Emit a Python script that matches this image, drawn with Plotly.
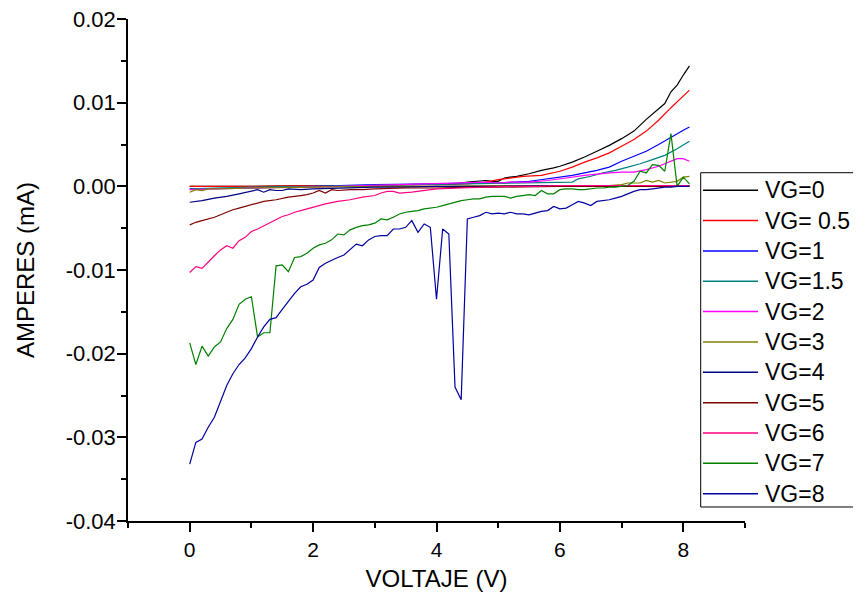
import plotly.graph_objects as go

# ---------------- data ----------------
V_FINE = [0.0, 0.1, 0.2, 0.3, 0.4, 0.5, 0.6, 0.7, 0.8, 0.9,
          1.0, 1.1, 1.2, 1.3, 1.4, 1.5, 1.6, 1.7, 1.8, 1.9,
          2.0, 2.1, 2.2, 2.3, 2.4, 2.5, 2.6, 2.7, 2.8, 2.9,
          3.0, 3.1, 3.2, 3.3, 3.4, 3.5, 3.6, 3.7, 3.8, 3.9,
          4.0, 4.1, 4.2, 4.3, 4.4, 4.5, 4.6, 4.7, 4.8, 4.9,
          5.0, 5.1, 5.2, 5.3, 5.4, 5.5, 5.6, 5.7, 5.8, 5.9,
          6.0, 6.1, 6.2, 6.3, 6.4, 6.5, 6.6, 6.7, 6.8, 6.9,
          7.0, 7.1, 7.2, 7.3, 7.4, 7.5, 7.6, 7.7, 7.8, 7.9,
          8.0, 8.1]

X_VG0 = [0.0, 1.0, 2.0, 3.0, 3.5, 4.0, 4.3, 4.5, 4.7, 4.8, 4.9, 5.0, 5.1, 5.3, 5.5, 5.7, 5.9,
         6.0, 6.2, 6.4, 6.6, 6.8, 7.0, 7.2, 7.4, 7.6, 7.7, 7.8, 7.9, 8.0, 8.1]
Y_VG0 = [0.0000, 0.0000, 0.0001, 0.0001, 0.0002, 0.0003, 0.0003, 0.0005, 0.0006, 0.0007, 0.0006, 0.0006,
         0.0010, 0.0012, 0.0015, 0.0019, 0.0022, 0.0024, 0.0029, 0.0035, 0.0042, 0.0049, 0.0057, 0.0066,
         0.0080, 0.0093, 0.0099, 0.0113, 0.0121, 0.0133, 0.0144]

X_VG05 = [0.0, 1.0, 2.0, 3.0, 3.5, 4.0, 4.5, 4.8, 5.0, 5.2, 5.4, 5.7, 6.0, 6.2, 6.4, 6.6, 6.8,
          7.0, 7.2, 7.4, 7.6, 7.8, 8.0, 8.1]
Y_VG05 = [0.0000, 0.0000, 0.0001, 0.0001, 0.0002, 0.0002, 0.0003, 0.0005, 0.0008, 0.0010, 0.0012, 0.0013,
          0.0018, 0.0023, 0.0029, 0.0034, 0.0040, 0.0048, 0.0056, 0.0066, 0.0079, 0.0094, 0.0108, 0.0115]

X_VG1 = [0.0, 1.0, 2.0, 3.0, 4.0, 4.5, 5.0, 5.3, 5.5, 5.6, 5.8, 6.0, 6.2, 6.4, 6.6, 6.8,
         7.0, 7.2, 7.4, 7.6, 7.8, 8.0, 8.1]
Y_VG1 = [-0.0003, -0.0002, 0.0000, 0.0002, 0.0003, 0.0004, 0.0004, 0.0005, 0.0006, 0.0007, 0.0009, 0.0011,
         0.0013, 0.0016, 0.0019, 0.0023, 0.0030, 0.0036, 0.0042, 0.0050, 0.0059, 0.0067, 0.0071]

X_VG15 = [0.0, 0.5, 1.0, 2.0, 3.0, 4.0, 4.5, 5.0, 5.5, 6.0, 6.2, 6.3, 6.5, 6.7, 6.9,
          7.1, 7.3, 7.5, 7.7, 7.9, 8.0, 8.1]
Y_VG15 = [-0.0003, -0.0002, -0.0001, 0.0000, 0.0001, 0.0002, 0.0003, 0.0003, 0.0004, 0.0004, 0.0005,
          0.0009, 0.0012, 0.0016, 0.0019, 0.0023, 0.0027, 0.0032, 0.0037, 0.0045, 0.0049, 0.0054]

X_VG2 = [0.0, 0.5, 1.0, 2.0, 3.0, 3.5, 4.0, 4.5, 4.8, 5.0, 5.2, 5.5, 5.8, 6.1, 6.4, 6.8,
         7.0, 7.2, 7.4, 7.6, 7.7, 7.8, 7.9, 8.0, 8.1]
Y_VG2 = [-0.0004, -0.0003, -0.0002, -0.0001, 0.0001, 0.0002, 0.0003, 0.0004, 0.0005, 0.0004, 0.0005,
         0.0005, 0.0007, 0.0010, 0.0013, 0.0016, 0.0017, 0.0017, 0.0020, 0.0024, 0.0027, 0.0030,
         0.0033, 0.0033, 0.0030]

X_VG3 = [0.0, 0.1, 0.2, 0.3, 0.5, 1.0, 2.0, 3.0, 4.0, 5.0, 6.0, 6.8, 7.0, 7.1, 7.3, 7.4,
         7.5, 7.6, 7.7, 7.8, 7.9, 8.0, 8.1]
Y_VG3 = [-0.0007, -0.0004, -0.0005, -0.0003, -0.0003, -0.0002, -0.0001, 0.0000, 0.0000, 0.0001, 0.0001,
         0.0001, 0.0002, 0.0004, 0.0004, 0.0007, 0.0005, 0.0007, 0.0004, 0.0005, 0.0006, 0.0011, 0.0012]

X_VG4 = [0.0, 0.2, 0.4, 0.6, 0.8, 1.0, 1.1, 1.2, 1.3, 1.4, 1.5, 1.6, 1.8, 2.0, 2.5, 3.0,
         3.5, 4.0, 5.0, 6.0, 7.0, 8.1]
Y_VG4 = [-0.0019, -0.0017, -0.0014, -0.0012, -0.0009, -0.0006, -0.0004, -0.0007, -0.0004, -0.0005,
         -0.0005, -0.0003, -0.0004, -0.0003, -0.0002, -0.0001, -0.0001, 0.0000, 0.0000, 0.0001,
         0.0001, 0.0001]

X_VG5 = [0.0, 0.1, 0.2, 0.3, 0.4, 0.5, 0.6, 0.7, 0.8, 0.9, 1.0, 1.2, 1.4, 1.6, 1.8, 1.9,
         2.0, 2.1, 2.2, 2.3, 2.4, 2.6, 2.8, 3.0, 3.5, 4.0, 4.5, 5.0, 6.0, 7.0, 8.1]
Y_VG5 = [-0.0046, -0.0043, -0.0041, -0.0039, -0.0037, -0.0034, -0.0031, -0.0028, -0.0026, -0.0024,
         -0.0022, -0.0018, -0.0016, -0.0013, -0.0011, -0.0010, -0.0008, -0.0005, -0.0008, -0.0004,
         -0.0005, -0.0004, -0.0004, -0.0003, -0.0002, -0.0002, -0.0001, -0.0001, 0.0000, 0.0000, 0.0000]

X_VG6 = [0.0, 0.1, 0.2, 0.3, 0.4, 0.5, 0.6, 0.7, 0.8, 0.9, 1.0, 1.1, 1.2, 1.3, 1.4, 1.5,
         1.6, 1.7, 1.8, 1.9, 2.0, 2.2, 2.4, 2.6, 2.8, 3.0, 3.1, 3.2, 3.3, 3.4, 3.6, 3.8,
         4.0, 4.4, 4.8, 5.2, 5.6, 6.0, 6.5, 7.0, 7.5, 8.1]
Y_VG6 = [-0.0103, -0.0096, -0.0098, -0.0090, -0.0083, -0.0076, -0.0071, -0.0074, -0.0065, -0.0061,
         -0.0054, -0.0051, -0.0047, -0.0043, -0.0039, -0.0036, -0.0034, -0.0031, -0.0029, -0.0027,
         -0.0025, -0.0021, -0.0018, -0.0016, -0.0013, -0.0011, -0.0008, -0.0006, -0.0006, -0.0008,
         -0.0007, -0.0005, -0.0003, -0.0002, -0.0001, 0.0000, 0.0000, 0.0001, 0.0001, 0.0001,
         0.0001, 0.0001]

Y_VG7 = [-0.0187, -0.0213, -0.0191, -0.0203, -0.0192, -0.0186, -0.0170, -0.0159, -0.0141, -0.0135,
         -0.0132, -0.0180, -0.0175, -0.0175, -0.0095, -0.0094, -0.0102, -0.0085, -0.0084, -0.0080,
         -0.0074, -0.0070, -0.0068, -0.0064, -0.0057, -0.0058, -0.0052, -0.0049, -0.0047, -0.0046,
         -0.0044, -0.0039, -0.0040, -0.0037, -0.0033, -0.0031, -0.0030, -0.0029, -0.0027, -0.0026,
         -0.0025, -0.0023, -0.0021, -0.0019, -0.0017, -0.0016, -0.0015, -0.0015, -0.0013, -0.0012,
         -0.0012, -0.0012, -0.0014, -0.0012, -0.0011, -0.0010, -0.0011, -0.0005, -0.0009, -0.0009,
         -0.0004, -0.0003, -0.0003, -0.0004, -0.0004, -0.0003, -0.0002, -0.0002, -0.0001, -0.0001,
         0.0000, 0.0001, 0.0006, 0.0018, 0.0016, 0.0026, 0.0025, 0.0018, 0.0063, 0.0000,
         0.0011, 0.0003]

Y_VG8 = [-0.0332, -0.0306, -0.0302, -0.0288, -0.0276, -0.0256, -0.0238, -0.0224, -0.0213, -0.0205,
         -0.0194, -0.0180, -0.0168, -0.0159, -0.0157, -0.0147, -0.0137, -0.0128, -0.0120, -0.0117,
         -0.0112, -0.0097, -0.0092, -0.0088, -0.0085, -0.0082, -0.0076, -0.0069, -0.0071, -0.0064,
         -0.0060, -0.0059, -0.0059, -0.0051, -0.0051, -0.0049, -0.0041, -0.0055, -0.0045, -0.0049,
         -0.0135, -0.0051, -0.0057, -0.0240, -0.0255, -0.0039, -0.0037, -0.0035, -0.0031, -0.0033,
         -0.0032, -0.0033, -0.0031, -0.0033, -0.0033, -0.0034, -0.0032, -0.0030, -0.0029, -0.0024,
         -0.0027, -0.0026, -0.0022, -0.0018, -0.0020, -0.0023, -0.0018, -0.0017, -0.0016, -0.0014,
         -0.0012, -0.0009, -0.0006, -0.0004, -0.0004, -0.0003, -0.0002, -0.0001, -0.0001, 0.0000,
         0.0000, 0.0000]

SERIES_NAMES = ["VG=0", "VG= 0.5", "VG=1", "VG=1.5", "VG=2", "VG=3",
                "VG=4", "VG=5", "VG=6", "VG=7", "VG=8"]
SERIES_X = [X_VG0, X_VG05, X_VG1, X_VG15, X_VG2, X_VG3, X_VG4, X_VG5, X_VG6, V_FINE, V_FINE]
SERIES_Y = [Y_VG0, Y_VG05, Y_VG1, Y_VG15, Y_VG2, Y_VG3, Y_VG4, Y_VG5, Y_VG6, Y_VG7, Y_VG8]
SERIES_COLORS = ["#000000", "#FF0000", "#0000FF", "#008080", "#FF00FF", "#808000",
                 "#000080", "#800000", "#FF0080", "#008000", "#0000A0"]

Y_TICK_VALUES = [-0.04, -0.03, -0.02, -0.01, 0.0, 0.01, 0.02]
Y_TICK_LABELS = ["-0.04", "-0.03", "-0.02", "-0.01", "0.00", "0.01", "0.02"]

FONT = "Liberation Sans, Arial, sans-serif"

fig = go.Figure()
for name, xs, ys, col in zip(SERIES_NAMES, SERIES_X, SERIES_Y, SERIES_COLORS):
    fig.add_trace(go.Scatter(x=xs, y=ys, mode="lines", name=name, showlegend=False,
                             line=dict(color=col, width=1.2)))

# ---- legend drawn as a framed box (paper coordinates) ----
LEG_BOX = dict(x0=0.9282, x1=1.22, y0=0.0279, y1=0.6938)
LEG_LINE_X0, LEG_LINE_X1, LEG_TEXT_X = 0.9319, 1.0211, 1.0292
LEG_TOP, LEG_STEP = 0.6590, 0.06046
shapes = [dict(type="rect", xref="paper", yref="paper", line=dict(color="black", width=1),
               fillcolor="white", layer="above", **LEG_BOX)]
annotations = []
for i, (name, col) in enumerate(zip(SERIES_NAMES, SERIES_COLORS)):
    yy = LEG_TOP - i * LEG_STEP
    shapes.append(dict(type="line", xref="paper", yref="paper", x0=LEG_LINE_X0, x1=LEG_LINE_X1,
                       y0=yy, y1=yy, line=dict(color=col, width=1.5), layer="above"))
    annotations.append(dict(xref="paper", yref="paper", x=LEG_TEXT_X, y=yy, text=name,
                            showarrow=False, xanchor="left", yanchor="middle",
                            font=dict(family=FONT, size=23, color="black")))

fig.update_layout(
    width=861, height=602,
    margin=dict(l=120, r=124, t=11, b=89, autoexpand=False),
    paper_bgcolor="white", plot_bgcolor="white",
    font=dict(family=FONT, color="black", size=21),
    showlegend=False,
    shapes=shapes, annotations=annotations,
    xaxis=dict(range=[-1, 9], tick0=0, dtick=2, showgrid=False, zeroline=False,
               showline=True, linecolor="black", linewidth=1.5,
               ticks="outside", ticklen=9, tickwidth=1.5, tickcolor="black",
               tickfont=dict(family=FONT, size=21), ticklabeloverflow="allow",
               minor=dict(ticks="outside", ticklen=5, tickwidth=1.5, tickcolor="black", dtick=1, tick0=0),
               title=dict(text="VOLTAJE (V)", font=dict(family=FONT, size=24), standoff=10)),
    yaxis=dict(range=[-0.04, 0.02], tickvals=Y_TICK_VALUES, ticktext=Y_TICK_LABELS,
               showgrid=False, zeroline=False,
               showline=True, linecolor="black", linewidth=1.5,
               ticks="outside", ticklen=9, tickwidth=1.5, tickcolor="black",
               tickfont=dict(family=FONT, size=22), ticklabelstandoff=-3,
               ticklabeloverflow="allow",
               minor=dict(ticks="outside", ticklen=5, tickwidth=1.5, tickcolor="black", dtick=0.005, tick0=0),
               title=dict(text="AMPERES (mA)", font=dict(family=FONT, size=24), standoff=24)),
)

fig.write_html("out.html")
